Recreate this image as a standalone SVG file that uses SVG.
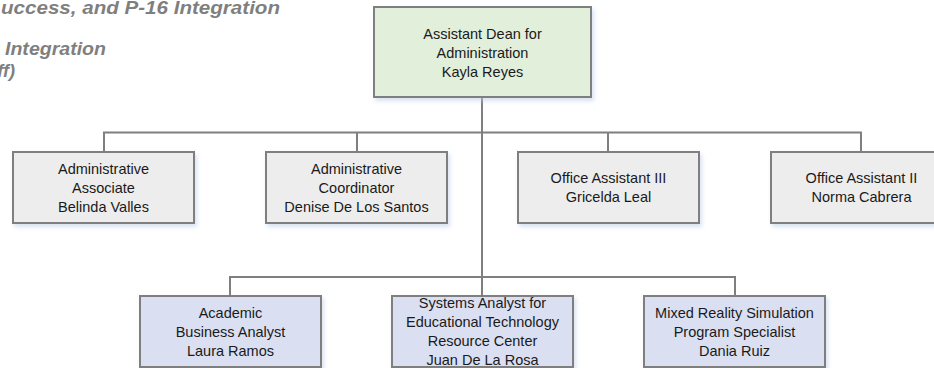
<svg xmlns="http://www.w3.org/2000/svg" width="934" height="368" viewBox="0 0 934 368">
<defs>
<filter id="sh" x="-10%" y="-10%" width="125%" height="135%">
<feDropShadow dx="2" dy="3" stdDeviation="2" flood-color="#b9c9e6" flood-opacity="0.55"/>
</filter>
<style>
.box{stroke:#7f7f7f;stroke-width:2;filter:url(#sh)}
.green{fill:#e2efda}
.grey{fill:#ededed}
.blue{fill:#dae0f2}
.t{font-family:"Liberation Sans",Arial,sans-serif;font-size:14.5px;fill:#1a1a1a;text-anchor:middle}
.hdr{font-family:"Liberation Sans",Arial,sans-serif;font-size:18px;font-weight:bold;font-style:italic;fill:#7f7f7f}
.c{stroke:#7f7f7f;stroke-width:2;fill:none}
</style>
</defs>
<rect width="934" height="368" fill="#ffffff"/>
<g id="header">
<text class="hdr" x="1" y="14" textLength="279" lengthAdjust="spacingAndGlyphs">uccess, and P-16 Integration</text>
<text class="hdr" x="5" y="55" textLength="101" lengthAdjust="spacingAndGlyphs">Integration</text>
<text class="hdr" x="15" y="77" text-anchor="end">ff)</text>
</g>
<g id="connectors">
<path class="c" d="M482 97 V296"/>
<path class="c" d="M104 152 V132.5 H861 V152"/>
<path class="c" d="M357 132.5 V152"/>
<path class="c" d="M608 132.5 V152"/>
<path class="c" d="M230 296 V277 H735 V296"/>
</g>
<g id="dean">
<rect class="box green" x="374" y="7" width="217" height="90"/>
<text class="t" x="482.5" y="39">Assistant Dean for</text>
<text class="t" x="482.5" y="58">Administration</text>
<text class="t" x="482.5" y="77">Kayla Reyes</text>
</g>
<g id="admin-associate">
<rect class="box grey" x="13" y="152" width="181" height="71"/>
<text class="t" x="103.5" y="173.5">Administrative</text>
<text class="t" x="103.5" y="192.5">Associate</text>
<text class="t" x="103.5" y="211.5">Belinda Valles</text>
</g>
<g id="admin-coordinator">
<rect class="box grey" x="266" y="152" width="181" height="71"/>
<text class="t" x="356.5" y="173.5">Administrative</text>
<text class="t" x="356.5" y="192.5">Coordinator</text>
<text class="t" x="356.5" y="211.5">Denise De Los Santos</text>
</g>
<g id="office-assistant-3">
<rect class="box grey" x="518" y="152" width="181" height="71"/>
<text class="t" x="608.5" y="183">Office Assistant III</text>
<text class="t" x="608.5" y="202">Gricelda Leal</text>
</g>
<g id="office-assistant-2">
<rect class="box grey" x="771" y="152" width="181" height="71"/>
<text class="t" x="861.5" y="183">Office Assistant II</text>
<text class="t" x="861.5" y="202">Norma Cabrera</text>
</g>
<g id="business-analyst">
<rect class="box blue" x="140" y="296" width="181" height="71"/>
<text class="t" x="230.5" y="317.5">Academic</text>
<text class="t" x="230.5" y="336.5">Business Analyst</text>
<text class="t" x="230.5" y="355.5">Laura Ramos</text>
</g>
<g id="systems-analyst">
<rect class="box blue" x="392" y="296" width="181" height="71"/>
<text class="t" x="482.5" y="308">Systems Analyst for</text>
<text class="t" x="482.5" y="327">Educational Technology</text>
<text class="t" x="482.5" y="346">Resource Center</text>
<text class="t" x="482.5" y="365">Juan De La Rosa</text>
</g>
<g id="simulation-specialist">
<rect class="box blue" x="644" y="296" width="181" height="71"/>
<text class="t" x="734.5" y="317.5">Mixed Reality Simulation</text>
<text class="t" x="734.5" y="336.5">Program Specialist</text>
<text class="t" x="734.5" y="355.5">Dania Ruiz</text>
</g>
</svg>
